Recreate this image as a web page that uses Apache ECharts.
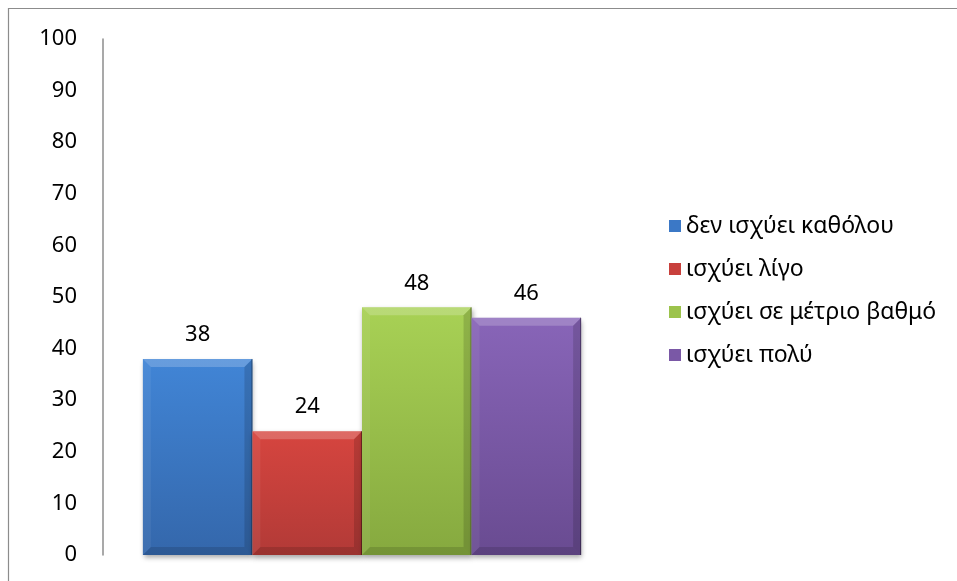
<!DOCTYPE html>
<html>
<head>
<meta charset="utf-8">
<script src="https://cdn.jsdelivr.net/npm/echarts@6/dist/echarts.min.js"></script>
<style>
  html, body { margin: 0; padding: 0; background: #fff; }
  #chart { width: 957px; height: 581px; }
</style>
</head>
<body>
<div id="chart"></div>
<script>
// Survey answers: one group of four bars
const categories = [''];
const seriesNames = ['δεν ισχύει καθόλου', 'ισχύει λίγο', 'ισχύει σε μέτριο βαθμό', 'ισχύει πολύ'];
const values = [38, 24, 48, 46];
const yMin = 0, yMax = 100, yStep = 10;

// Face gradient (top -> bottom) and base colour for each series
const faceTop = ['#4185d6', '#d6453f', '#a8d155', '#8865b8'];
const faceBottom = ['#3467ab', '#b23a37', '#86a93f', '#694b91'];
const baseColor = ['#3b78c6', '#c8403c', '#9cc34c', '#7a58a6'];

const GAP = 0.154; // share of the category band left empty
const BEVEL = 8;
const FONT = '"Noto Sans", sans-serif';

function renderBevelBar(params, api) {
  const idx = params.seriesIndex;
  const v = api.value(1);
  const base = api.coord([api.value(0), 0]);
  const tp = api.coord([api.value(0), v]);
  const band = api.size([1, 0])[0];
  const gw = band * (1 - GAP);
  const bw = gw / seriesNames.length;
  const x0 = base[0] - gw / 2 + idx * bw;
  const x1 = x0 + bw;
  const y0 = tp[1];
  const y1 = base[1];
  const b = BEVEL;
  return {
    type: 'group',
    children: [
      {
        type: 'rect',
        shape: { x: x0, y: y0, width: bw, height: y1 - y0 },
        style: {
          fill: new echarts.graphic.LinearGradient(0, 0, 0, 1, [
            { offset: 0, color: faceTop[idx] },
            { offset: 1, color: faceBottom[idx] }
          ]),
          shadowColor: 'rgba(0,0,0,0.35)',
          shadowBlur: 5,
          shadowOffsetY: 3,
          shadowOffsetX: 1
        }
      },
      {
        type: 'polygon',
        shape: { points: [[x0, y0], [x1, y0], [x1 - b, y0 + b], [x0 + b, y0 + b]] },
        style: { fill: 'rgba(255,255,255,0.2)' }
      },
      {
        type: 'polygon',
        shape: { points: [[x0, y0], [x0 + b, y0 + b], [x0 + b, y1 - b], [x0, y1]] },
        style: { fill: 'rgba(255,255,255,0.06)' }
      },
      {
        type: 'polygon',
        shape: { points: [[x1, y0], [x1, y1], [x1 - b, y1 - b], [x1 - b, y0 + b]] },
        style: { fill: 'rgba(0,0,0,0.14)' }
      },
      {
        type: 'polygon',
        shape: { points: [[x0, y1], [x0 + b, y1 - b], [x1 - b, y1 - b], [x1, y1]] },
        style: { fill: 'rgba(0,0,0,0.13)' }
      },
      {
        type: 'line',
        shape: { x1: x1 - 0.5, y1: y0, x2: x1 - 0.5, y2: y1 },
        style: { stroke: 'rgba(0,0,0,0.35)', lineWidth: 1 }
      },
      {
        type: 'text',
        style: {
          x: (x0 + x1) / 2,
          y: y0 - 24,
          text: String(v),
          fill: '#000',
          font: '22px ' + FONT,
          align: 'center',
          verticalAlign: 'middle'
        }
      }
    ]
  };
}

const chart = echarts.init(document.getElementById('chart'), null, { renderer: 'canvas' });

chart.setOption({
  animation: false,
  backgroundColor: '#ffffff',
  graphic: [
    {
      type: 'rect',
      shape: { x: 8.5, y: 8.5, width: 970, height: 600 },
      style: { fill: 'none', stroke: '#8c8c8c', lineWidth: 1.2 },
      silent: true,
      z: -1
    }
  ],
  grid: { left: 103, right: 336, top: 39, bottom: 26 },
  legend: {
    orient: 'vertical',
    left: 664,
    top: 209,
    itemWidth: 12,
    itemHeight: 12,
    itemGap: 19,
    icon: 'rect',
    selectedMode: false,
    data: seriesNames,
    textStyle: { color: '#000', fontSize: 23, fontFamily: 'Noto Sans', lineHeight: 24 }
  },
  xAxis: {
    type: 'category',
    data: categories,
    axisLine: { show: false },
    axisTick: { show: false },
    axisLabel: { show: false },
    splitLine: { show: false }
  },
  yAxis: {
    type: 'value',
    min: yMin,
    max: yMax,
    interval: yStep,
    axisLine: { show: true, lineStyle: { color: '#8c8c8c', width: 1.5 } },
    axisTick: { show: false },
    splitLine: { show: false },
    axisLabel: { color: '#000', fontSize: 22, fontFamily: 'Noto Sans', margin: 26 }
  },
  series: seriesNames.map((name, i) => ({
    name: name,
    type: 'custom',
    renderItem: renderBevelBar,
    itemStyle: { color: baseColor[i] },
    encode: { x: 0, y: 1 },
    data: [[0, values[i]]]
  }))
});
</script>
</body>
</html>
